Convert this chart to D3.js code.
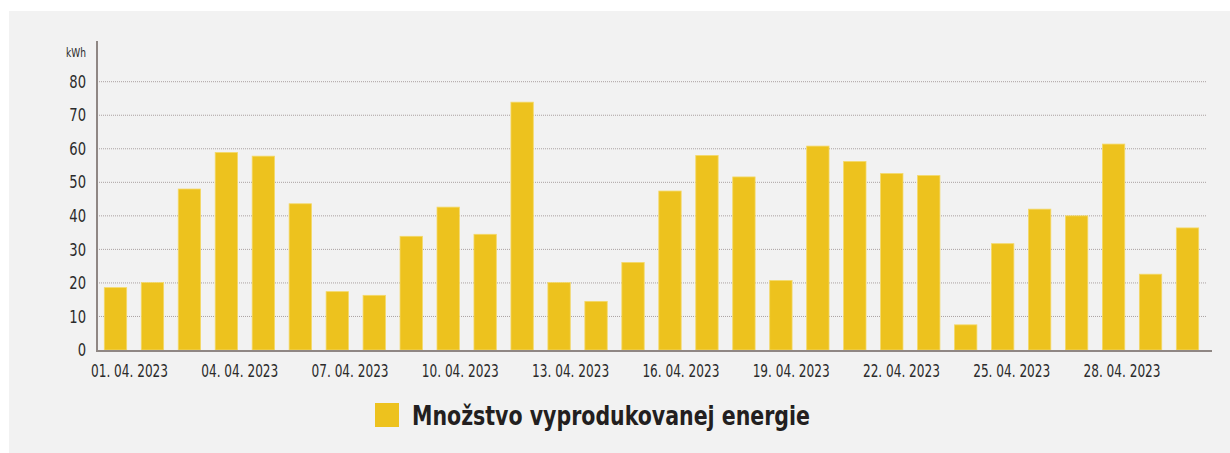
<!DOCTYPE html>
<html>
<head>
<meta charset="utf-8">
<script src="https://cdn.jsdelivr.net/npm/d3@7"></script>
<style>
  body { margin: 0; background: #fff; }
  text { font-family: "DejaVu Sans Condensed", "DejaVu Sans", sans-serif; }
</style>
</head>
<body>
<div id="chart"></div>
<script>
// daily energy, April 2023
var days = d3.range(1, 31);
var energy = [18.6, 20.1, 48.0, 58.9, 57.8, 43.6, 17.4, 16.3, 33.9, 42.6,
              34.5, 73.9, 20.1, 14.5, 26.1, 47.4, 58.0, 51.6, 20.7, 60.8,
              56.2, 52.6, 52.0, 7.5, 31.7, 42.0, 40.0, 61.4, 22.6, 36.4];
var yTicks = [0, 10, 20, 30, 40, 50, 60, 70, 80];
var labelDays = [1, 4, 7, 10, 13, 16, 19, 22, 25, 28];
var seriesName = "Množstvo vyprodukovanej energie";

const W = 1230, H = 453;
const x0 = 97, x1 = 1206, axisEnd = 1212;
const yBase = 350, yTop = 81.7;
const barColor = "#edc21e";

var svg = d3.select("#chart").append("svg")
  .attr("width", W).attr("height", H);

// grey panel
svg.append("rect")
  .attr("x", 9).attr("y", 11)
  .attr("width", W - 9).attr("height", H - 11)
  .style("fill", "#f2f2f2");

var x = d3.scaleBand()
  .domain(days)
  .range([x0, x1])
  .paddingInner(0.395)
  .paddingOuter(0.1975);

var y = d3.scaleLinear().domain([0, 80]).range([yBase, yTop]);

// label positions don't sit exactly on the bars in the original
var xLab = d3.scaleLinear().domain([1, 28]).range([129.5, 1122]);

// grid lines
svg.append("g").selectAll("line")
  .data(yTicks.filter(d => d > 0))
  .join("line")
  .attr("x1", x0 + 2).attr("x2", x1 + 1)
  .attr("y1", d => y(d)).attr("y2", d => y(d))
  .style("stroke", "#aaa1a1")
  .style("stroke-width", 1)
  .style("stroke-dasharray", "1,1");

// bars
svg.append("g").selectAll("rect")
  .data(energy)
  .join("rect")
  .attr("x", (d, i) => x(days[i]))
  .attr("y", d => y(d))
  .attr("width", x.bandwidth())
  .attr("height", d => yBase - y(d))
  .style("fill", barColor)
  .style("stroke", "#f4d968")
  .style("stroke-width", 0.8);

// axes lines
svg.append("line")
  .attr("x1", x0).attr("x2", x0)
  .attr("y1", 41).attr("y2", yBase + 2)
  .style("stroke", "#8f8784").style("stroke-width", 2);
svg.append("line")
  .attr("x1", x0 - 1).attr("x2", axisEnd)
  .attr("y1", yBase + 1).attr("y2", yBase + 1)
  .style("stroke", "#8f8784").style("stroke-width", 2);

// y tick labels (squeezed, the original font is narrow)
svg.append("g").selectAll("text")
  .data(yTicks)
  .join("text")
  .attr("transform", d => "translate(86," + y(d) + ") scale(0.86,1)")
  .attr("dy", "0.36em")
  .attr("text-anchor", "end")
  .style("font-size", "17px")
  .style("fill", "#2b2b2b")
  .text(d => d);

svg.append("text")
  .attr("x", 86).attr("y", 56.5)
  .attr("text-anchor", "end")
  .attr("textLength", 20)
  .attr("lengthAdjust", "spacingAndGlyphs")
  .style("font-size", "11.5px")
  .style("fill", "#2b2b2b")
  .text("kWh");

// x labels
svg.append("g").selectAll("text")
  .data(labelDays)
  .join("text")
  .attr("x", d => xLab(d))
  .attr("y", 377)
  .attr("text-anchor", "middle")
  .attr("textLength", 77)
  .attr("lengthAdjust", "spacingAndGlyphs")
  .style("font-size", "17px")
  .style("fill", "#2b2b2b")
  .text(d => String(d).padStart(2, "0") + ". 04. 2023");

// legend
svg.append("rect")
  .attr("x", 375).attr("y", 403)
  .attr("width", 24).attr("height", 24)
  .style("fill", barColor);
svg.append("text")
  .attr("x", 412).attr("y", 425)
  .attr("textLength", 398)
  .attr("lengthAdjust", "spacingAndGlyphs")
  .style("font-size", "27px")
  .style("font-weight", "bold")
  .style("fill", "#231f20")
  .text(seriesName);
</script>
</body>
</html>
